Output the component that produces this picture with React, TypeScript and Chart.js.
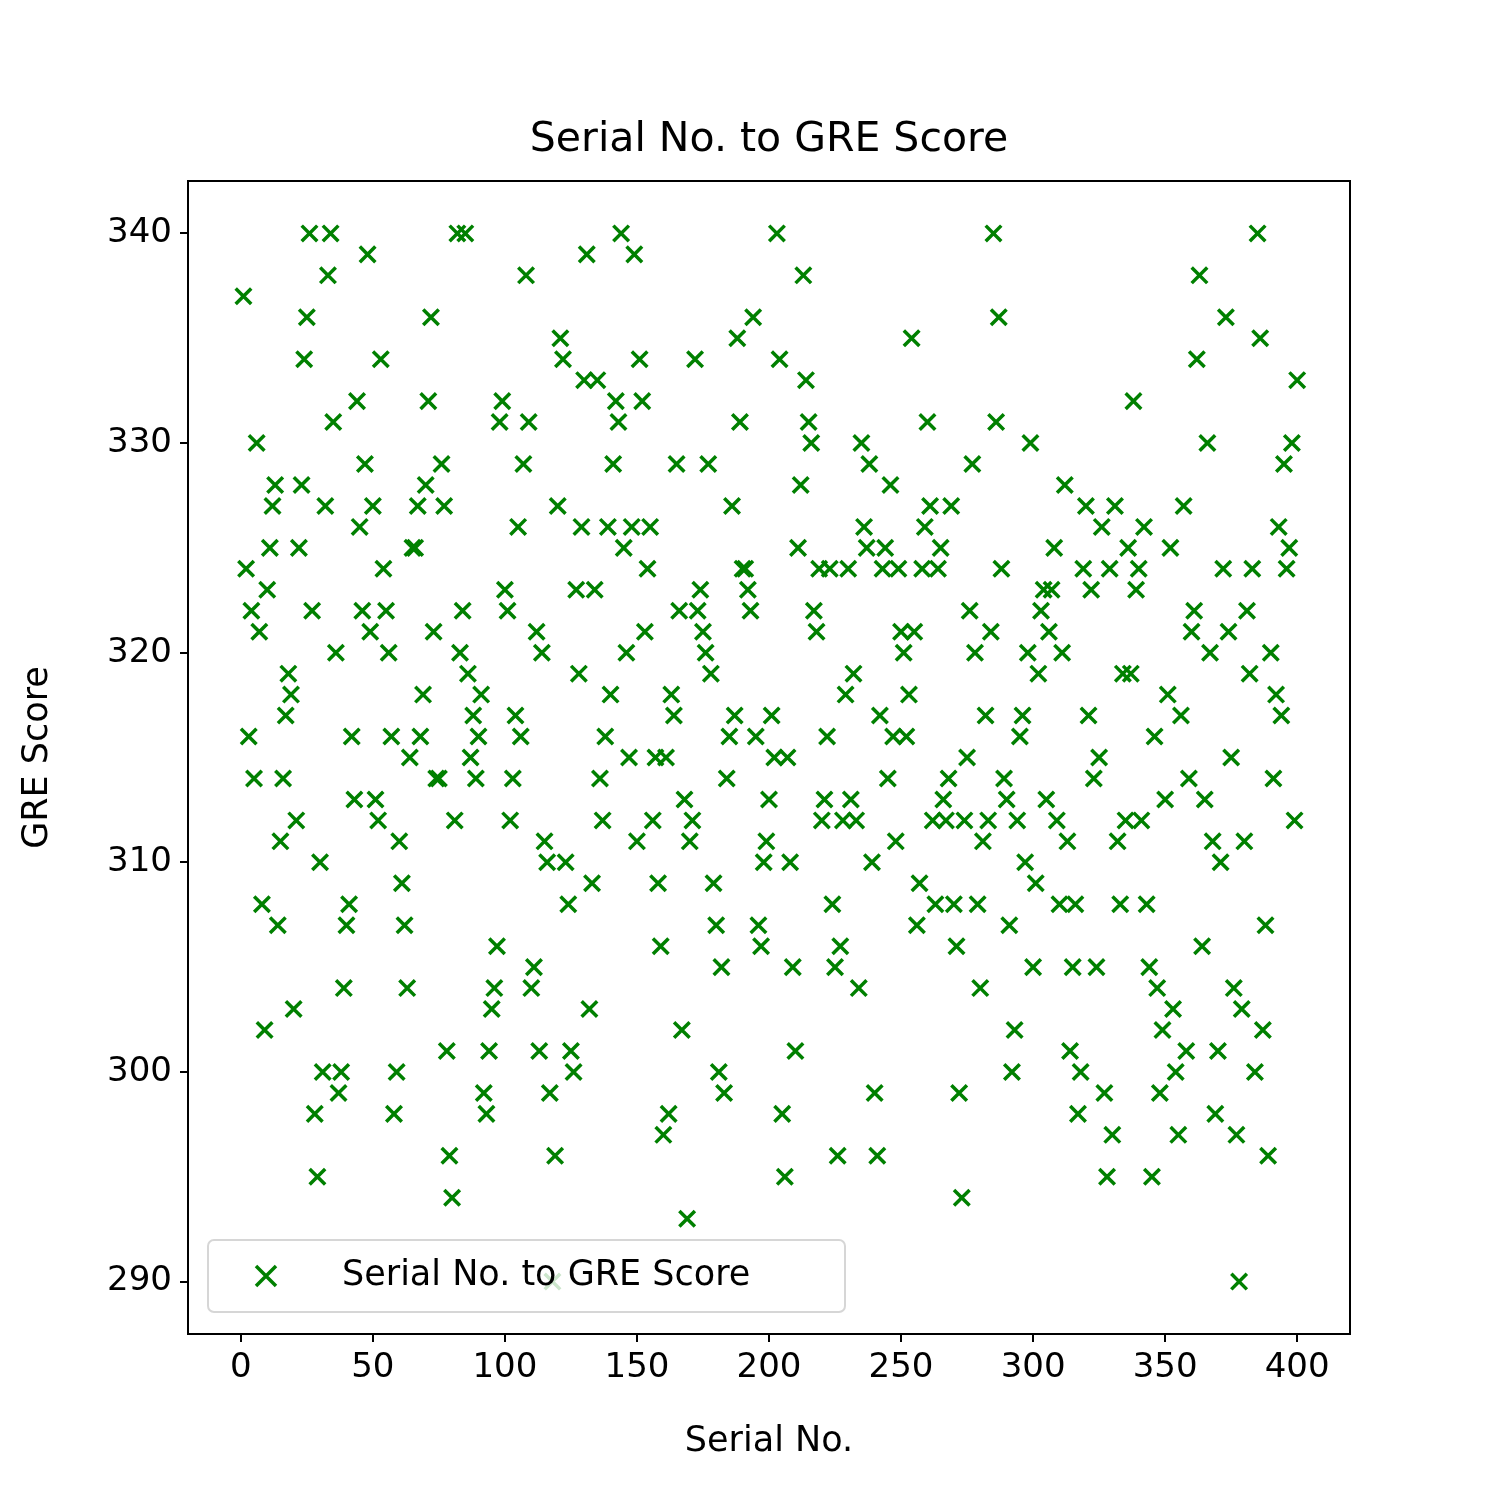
import React, { useEffect, useRef } from 'react';
import Chart from 'chart.js/auto';

// GRE scores, one per serial number (1..n)
const greScores = [
  337, 324, 316, 322, 314, 330, 321, 308, 302, 323, 325, 327, 328, 307, 311, 314, 317, 319, 318, 303,
  312, 325, 328, 334, 336, 340, 322, 298, 295, 310, 300, 327, 338, 340, 331, 320, 299, 300, 304, 307,
  308, 316, 313, 332, 326, 322, 329, 339, 321, 327, 313, 312, 334, 324, 322, 320, 316, 298, 300, 311,
  309, 307, 304, 315, 325, 325, 327, 316, 318, 328, 332, 336, 321, 314, 314, 329, 327, 301, 296, 294,
  312, 340, 320, 322, 340, 319, 315, 317, 314, 316, 318, 299, 298, 301, 303, 304, 306, 331, 332, 323,
  322, 312, 314, 317, 326, 316, 329, 338, 331, 304, 305, 321, 301, 320, 311, 310, 299, 290, 296, 327,
  335, 334, 310, 308, 301, 300, 323, 319, 326, 333, 339, 303, 309, 323, 333, 314, 312, 316, 326, 318,
  329, 332, 331, 340, 325, 320, 315, 326, 339, 311, 334, 332, 321, 324, 326, 312, 315, 309, 306, 297,
  315, 298, 318, 317, 329, 322, 302, 313, 293, 311, 312, 334, 322, 323, 321, 320, 329, 319, 309, 307,
  300, 305, 299, 314, 316, 327, 317, 335, 331, 324, 324, 323, 322, 336, 316, 307, 306, 310, 311, 313,
  317, 315, 340, 334, 298, 295, 315, 310, 305, 301, 325, 328, 338, 333, 331, 330, 322, 321, 324, 312,
  313, 316, 324, 308, 305, 296, 306, 312, 318, 324, 313, 319, 312, 304, 330, 326, 325, 329, 310, 299,
  296, 317, 324, 325, 314, 328, 316, 311, 324, 321, 320, 316, 318, 335, 321, 307, 309, 324, 326, 331,
  327, 312, 308, 324, 325, 313, 312, 314, 327, 308, 306, 299, 294, 312, 315, 322, 329, 320, 308, 304,
  311, 317, 312, 321, 340, 331, 336, 324, 314, 313, 307, 300, 302, 312, 316, 317, 310, 320, 330, 305,
  309, 319, 322, 323, 313, 321, 323, 325, 312, 308, 320, 328, 311, 301, 305, 308, 298, 300, 324, 327,
  317, 323, 314, 305, 315, 326, 299, 295, 324, 297, 327, 311, 308, 319, 312, 325, 319, 332, 323, 324,
  312, 326, 308, 305, 295, 316, 304, 299, 302, 313, 318, 325, 303, 300, 297, 317, 327, 301, 314, 321,
  322, 334, 338, 306, 313, 330, 320, 311, 298, 301, 310, 324, 336, 321, 315, 304, 297, 290, 303, 311,
  322, 319, 324, 300, 340, 335, 302, 307, 296, 320, 314, 318, 326, 317, 329, 324, 325, 330, 312, 333,
];
const xTicks = [0, 50, 100, 150, 200, 250, 300, 350, 400];
const yTicks = [290, 300, 310, 320, 330, 340];

const FONT = 'DejaVu Sans';
const GREEN = '#008000';

// box, title, axis titles and legend drawn by hand to match the matplotlib look
const framePlugin = {
  id: 'frame',
  afterDraw(chart: any) {
    const { ctx, chartArea: a } = chart;
    ctx.save();
    ctx.strokeStyle = '#000';
    ctx.lineWidth = 2;
    ctx.strokeRect(a.left, a.top, a.right - a.left, a.bottom - a.top);
    ctx.fillStyle = '#000';
    ctx.textAlign = 'center';
    ctx.textBaseline = 'middle';
    ctx.font = `41px ${FONT}`;
    ctx.fillText('Serial No. to GRE Score', (a.left + a.right) / 2, 140);
    ctx.font = `35px ${FONT}`;
    ctx.fillText('Serial No.', (a.left + a.right) / 2, 1442);
    ctx.translate(38, (a.top + a.bottom) / 2);
    ctx.rotate(-Math.PI / 2);
    ctx.fillText('GRE Score', 0, 0);
    ctx.restore();

    // legend
    ctx.save();
    const lx = 208, ly = 1240, lw = 637, lh = 72;
    ctx.fillStyle = 'rgba(255,255,255,0.8)';
    ctx.strokeStyle = 'rgba(204,204,204,0.8)';
    ctx.lineWidth = 2;
    ctx.beginPath();
    ctx.roundRect(lx, ly, lw, lh, 6);
    ctx.fill();
    ctx.stroke();
    ctx.strokeStyle = GREEN;
    ctx.lineWidth = 3.5;
    const mx = 266, my = ly + lh / 2, r = 10;
    ctx.beginPath();
    ctx.moveTo(mx - r, my - r); ctx.lineTo(mx + r, my + r);
    ctx.moveTo(mx - r, my + r); ctx.lineTo(mx + r, my - r);
    ctx.stroke();
    ctx.fillStyle = '#000';
    ctx.font = `35px ${FONT}`;
    ctx.textAlign = 'left';
    ctx.textBaseline = 'middle';
    ctx.fillText('Serial No. to GRE Score', 342, my);
    ctx.restore();
  },
};

const App: React.FC = () => {
  const canvasRef = useRef<HTMLCanvasElement | null>(null);

  useEffect(() => {
    if (!canvasRef.current) return;
    const points = greScores.map((v, i) => ({ x: i + 1, y: v }));
    const chart = new Chart(canvasRef.current, {
      type: 'scatter',
      data: {
        datasets: [{
          label: 'Serial No. to GRE Score',
          data: points,
          pointStyle: 'crossRot',
          pointRadius: 11,
          borderColor: GREEN,
          backgroundColor: GREEN,
          borderWidth: 3.5,
        }],
      },
      options: {
        animation: false,
        responsive: false,
        devicePixelRatio: 1,
        layout: { padding: { top: 181, right: 150, left: 0, bottom: 0 } },
        plugins: { legend: { display: false }, tooltip: { enabled: false } },
        scales: {
          x: {
            type: 'linear',
            min: -20,
            max: 420,
            afterBuildTicks: (s: any) => { s.ticks = xTicks.map(v => ({ value: v })); },
            afterFit: (s: any) => { s.height = 166; },
            grid: { drawOnChartArea: false, tickLength: 8, color: '#000', lineWidth: 2 },
            border: { display: false },
            ticks: { color: '#000', font: { family: FONT, size: 34 }, padding: 6, maxRotation: 0 },
          },
          y: {
            type: 'linear',
            min: 287.5,
            max: 342.5,
            afterBuildTicks: (s: any) => { s.ticks = yTicks.map(v => ({ value: v })); },
            afterFit: (s: any) => { s.width = 188; },
            grid: { drawOnChartArea: false, tickLength: 8, color: '#000', lineWidth: 2 },
            border: { display: false },
            ticks: { color: '#000', font: { family: FONT, size: 34 }, padding: 8 },
          },
        },
      },
      plugins: [framePlugin],
    });
    return () => chart.destroy();
  }, []);

  return (
    <div style={{ width: 1500, height: 1500, background: '#fff', margin: -8 }}>
      <canvas ref={canvasRef} width={1500} height={1500} style={{ display: 'block' }} />
    </div>
  );
};

export default App;
